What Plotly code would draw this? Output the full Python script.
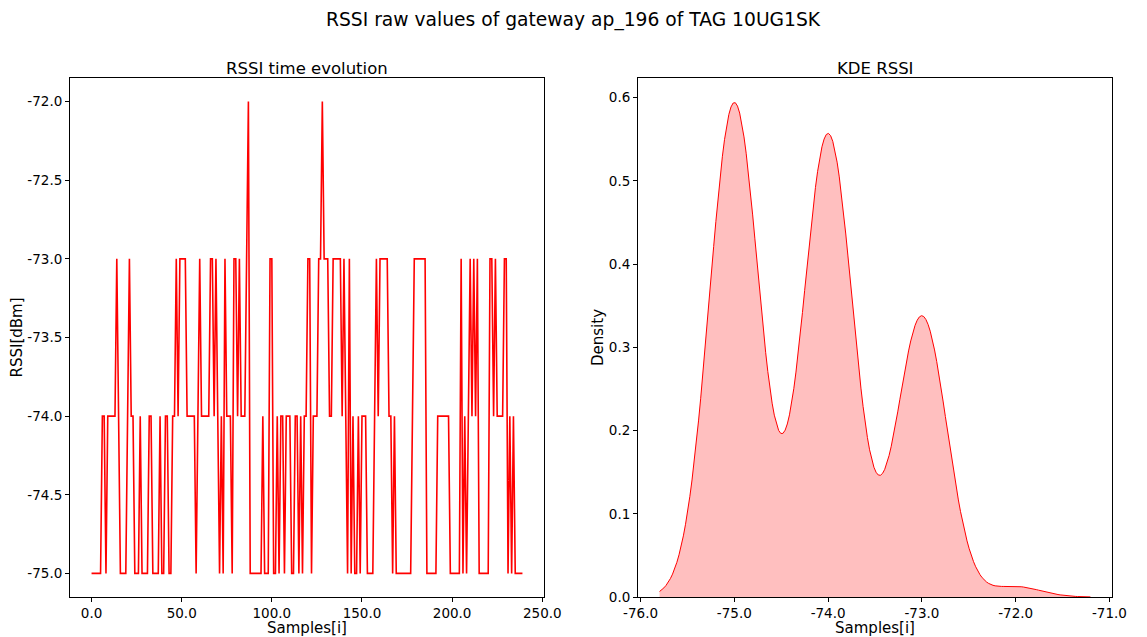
import numpy as np
import plotly.graph_objects as go

# ---- data: RSSI samples (run-length encoded: (value, count)) ----
rssi_runs = [
    (-75, 6), (-74, 2), (-75, 1), (-74, 5), (-73, 1), (-74, 1), (-75, 4), (-74, 1), (-73, 1),
    (-74, 2), (-75, 3), (-74, 1), (-75, 4), (-74, 2), (-75, 4), (-74, 1), (-75, 2), (-74, 2),
    (-75, 2), (-74, 2), (-73, 1), (-74, 1), (-73, 4), (-74, 5), (-75, 1), (-74, 1), (-73, 1),
    (-74, 5), (-73, 2), (-74, 1), (-73, 1), (-74, 1), (-75, 1), (-74, 1), (-75, 1), (-73, 1),
    (-74, 3), (-75, 1), (-73, 2), (-74, 1), (-73, 1), (-74, 3), (-73, 1), (-72, 1), (-75, 7),
    (-74, 1), (-75, 3), (-73, 2), (-75, 2), (-74, 1), (-75, 1), (-74, 2), (-75, 1), (-74, 3),
    (-75, 2), (-74, 2), (-75, 1), (-74, 1), (-75, 1), (-74, 2), (-73, 2), (-75, 1), (-74, 3),
    (-73, 2), (-72, 1), (-73, 3), (-74, 2), (-73, 5), (-74, 1), (-73, 1), (-74, 1), (-75, 1),
    (-73, 1), (-75, 1), (-74, 1), (-75, 2), (-74, 1), (-75, 1), (-74, 3), (-75, 4), (-74, 1),
    (-73, 1), (-74, 1), (-73, 5), (-74, 2), (-75, 1), (-74, 1), (-75, 9), (-74, 1), (-73, 7),
    (-75, 6), (-74, 7), (-75, 6), (-73, 1), (-75, 1), (-74, 1), (-75, 1), (-74, 1), (-73, 1),
    (-74, 1), (-73, 1), (-74, 1), (-73, 1), (-75, 6), (-73, 2), (-74, 1), (-73, 1), (-74, 4),
    (-73, 2), (-75, 1), (-74, 1), (-75, 1), (-74, 1), (-75, 5),
]
rssi = [v for v, c in rssi_runs for _ in range(c)]
samples = list(range(len(rssi)))

left_xticks = [0, 50, 100, 150, 200, 250]
left_xticktext = ["0.0", "50.0", "100.0", "150.0", "200.0", "250.0"]
left_yticks = [-72.0, -72.5, -73.0, -73.5, -74.0, -74.5, -75.0]
left_yticktext = ["-72.0", "-72.5", "-73.0", "-73.5", "-74.0", "-74.5", "-75.0"]
right_xticks = [-76, -75, -74, -73, -72, -71]
right_xticktext = ["-76.0", "-75.0", "-74.0", "-73.0", "-72.0", "-71.0"]
right_yticks = [0.0, 0.1, 0.2, 0.3, 0.4, 0.5, 0.6]
right_yticktext = ["0.0", "0.1", "0.2", "0.3", "0.4", "0.5", "0.6"]

title_text = "RSSI raw values of gateway ap_196 of TAG 10UG1SK"

# ---- Gaussian KDE (Scott's rule, cut=3, 200 points) ----
x = np.asarray(rssi, dtype=float)
n = x.size
bw = x.std(ddof=1) * n ** (-1 / 5)
grid = np.linspace(x.min() - 3 * bw, x.max() + 3 * bw, 200)
dens = np.exp(-0.5 * ((grid[:, None] - x[None, :]) / bw) ** 2).sum(axis=1) / (n * bw * np.sqrt(2 * np.pi))

W, H = 1147, 637
FONT = "DejaVu Sans"

fig = go.Figure()
fig.add_trace(go.Scatter(x=samples, y=rssi, mode="lines", line=dict(color="red", width=1.6),
                         xaxis="x", yaxis="y", showlegend=False))
fig.add_trace(go.Scatter(x=grid, y=dens, mode="lines", fill="tozeroy",
                         fillcolor="rgba(255,0,0,0.25)", line=dict(color="red", width=1),
                         xaxis="x2", yaxis="y2", showlegend=False))

def ax(**kw):
    base = dict(showline=True, mirror=True, linecolor="black", linewidth=1, ticks="outside",
                ticklen=4, tickwidth=1, tickcolor="black", showgrid=False, zeroline=False,
                automargin=False,
                tickfont=dict(family=FONT, size=13.5, color="black"))
    base.update(kw)
    return base

ydom = [(H - 597) / H, (H - 78) / H]
xr = len(rssi) - 1
fig.update_layout(
    width=W, height=H, margin=dict(l=0, r=0, t=0, b=0),
    paper_bgcolor="white", plot_bgcolor="white",
    font=dict(family=FONT, color="black"),
    xaxis=ax(domain=[70 / W, 544 / W], range=[-0.05 * xr, 1.05 * xr], anchor="y",
             tickvals=left_xticks, ticktext=left_xticktext,
             title=dict(text="Samples[i]", font=dict(family=FONT, size=15), standoff=1)),
    yaxis=ax(domain=ydom, range=[-75.15, -71.85], anchor="x",
             tickvals=left_yticks, ticktext=left_yticktext,
             title=dict(text="RSSI[dBm]", font=dict(family=FONT, size=15), standoff=1)),
    xaxis2=ax(domain=[638 / W, 1112 / W],
              range=[grid[0] - 0.05 * (grid[-1] - grid[0]), grid[-1] + 0.05 * (grid[-1] - grid[0])],
              anchor="y2", tickvals=right_xticks, ticktext=right_xticktext,
              title=dict(text="Samples[i]", font=dict(family=FONT, size=15), standoff=1)),
    yaxis2=ax(domain=ydom, range=[0, dens.max() * 1.05], anchor="x2",
              tickvals=right_yticks, ticktext=right_yticktext,
              title=dict(text="Density", font=dict(family=FONT, size=15), standoff=1)),
    annotations=[
        dict(text=title_text, x=0.5, y=1 - 20 / H, xref="paper", yref="paper",
             showarrow=False, font=dict(family=FONT, size=18.7), xanchor="center", yanchor="middle"),
        dict(text="RSSI time evolution", x=(70 + 544) / 2 / W, y=1 - 68 / H, xref="paper", yref="paper",
             showarrow=False, font=dict(family=FONT, size=16.5), xanchor="center", yanchor="middle"),
        dict(text="KDE RSSI", x=(638 + 1112) / 2 / W, y=1 - 68 / H, xref="paper", yref="paper",
             showarrow=False, font=dict(family=FONT, size=16.5), xanchor="center", yanchor="middle"),
    ],
)

fig.write_html("out.html", config={"displayModeBar": False},
               post_script="document.body.style.margin='0px';document.body.style.overflow='hidden';")
